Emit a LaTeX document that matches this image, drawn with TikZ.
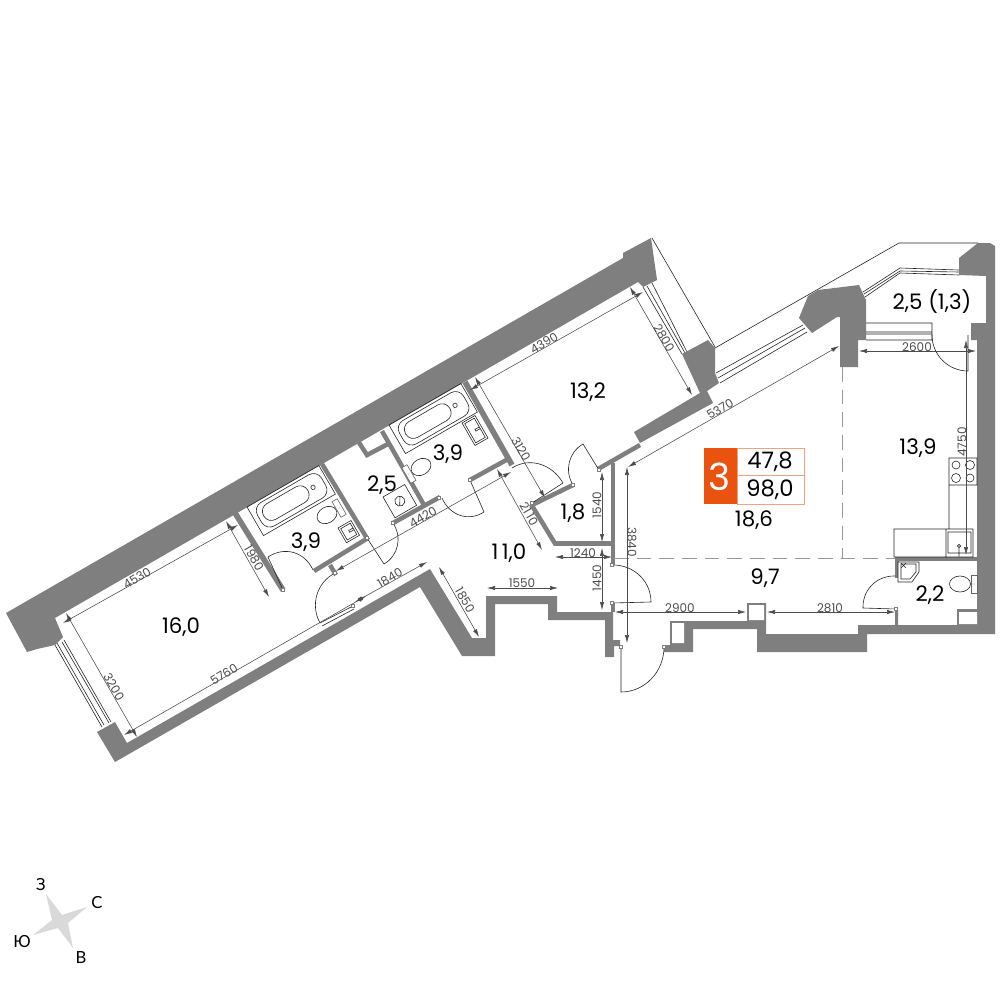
\documentclass[tikz,border=0pt]{standalone}
\usepackage{fontspec}
\setmainfont{Poppins}
\newfontfamily\compassfont{Lato}
\usetikzlibrary{calc,arrows.meta}
\definecolor{wallgray}{HTML}{7F7F7F}
\definecolor{badgeorange}{HTML}{E9520F}
\definecolor{framepeach}{HTML}{F5A27A}
\tikzset{
wall/.style={fill=wallgray,draw=none},
thinwall/.style={draw=wallgray,line width=3.4pt,line join=miter},
fixture/.style={draw=black!85,line width=.45pt},
zone/.style={draw=black!40,line width=.6pt,dash pattern=on 11pt off 6pt},
dimline/.style={draw=black!70,line width=.42pt,{Latex[length=6pt,width=3.2pt]}-{Latex[length=6pt,width=3.2pt]}},
dimtext/.style={text=black!70,font=\fontsize{9}{10}\selectfont,inner sep=0pt},
roomtext/.style={text=black,font=\fontsize{16}{18}\selectfont,inner sep=0pt},
totaltext/.style={text=black,font=\fontsize{17}{19}\selectfont,inner sep=0pt},
compasstext/.style={font=\compassfont\fontsize{12.5}{14}\selectfont,inner sep=0pt},
hinge/.style={draw=wallgray,fill=white,line width=.4pt,minimum size=2.4pt,inner sep=0pt},
bath/.pic={
\draw[fixture] (0,0) rectangle (83,33);
\draw[fixture,rounded corners=7pt] (5,3) rectangle (79,30);
\draw[fixture,rounded corners=6.5pt] (10,7) rectangle (61,25);
\draw[fixture] (67,16) circle[radius=2.2];
},
toilet/.pic={
\draw[fixture] (0,0) ellipse[x radius=10.5,y radius=8];
\draw[fixture,fill=white,draw=black!60] (11,-9) rectangle (17,9);
\fill[black!70] (14,0) circle[radius=.5];
},
vanity/.pic={
\draw[fixture] (0,0) rectangle (15,#1);
\draw[fixture] (2,2) rectangle (13,#1-2);
\draw[fixture] (13,#1/2-1) -- (8,#1/2-1) -- (8,#1/2+1) -- (13,#1/2+1);
}
}
\newcommand{\door}[3]{\draw[fixture] (#3) -- (#1) .. controls ($(#1)+0.5523*(#2)-0.5523*(#3)$) and ($(#2)+0.5523*(#1)-0.5523*(#3)$) .. (#2);}

\begin{document}
\begin{tikzpicture}[x=.75pt,y=-.75pt]
\useasboundingbox (0,0) rectangle (1000,1000);

% kitchen and balcony outlines sit under the walls
\draw[fixture]
(652,238) -- (715,347)
(715,348) -- (899,243) -- (978,243)
(716,373) -- (803,325)
(718,378) -- (805,328)
(720,383) -- (807,332)
(863,292) -- (900,268) -- (959,270)
(864,294) -- (900,271) -- (959,272)
(865,297) -- (900,273) -- (959,275)
(866,323) -- (932,323) -- (932,340) -- (866,340)
(866,332) -- (932,332)
(866,334) -- (932,334)
(643,287) -- (682,354)
(647,286) -- (685,353)
(652,283) -- (687,352)
(55,645) -- (102,727)
(57,643) -- (104,725)
(62,642) -- (109,723)
(64,640) -- (111,722)
;

% walls
\draw[wall] (6,613) -- (27,652) -- (37,649) -- (55,645) -- (63,637) -- (55,618) -- (638,282) -- (643,287) -- (657,280) -- (651,238) -- (623,253) -- (623,258) -- cycle;
\draw[wall] (97,732) -- (115,722) -- (127,743) -- (430,569) -- (472,638) -- (486,638) -- (486,596) -- (557,596) -- (557,612) -- (613,612) -- (613,640) -- (620,640) -- (620,646) -- (614,646) -- (614,657) -- (605,657) -- (605,620) -- (548,620) -- (548,604) -- (495,604) -- (495,656) -- (462,656) -- (420,587) -- (115,762) -- cycle;
\draw[wall] (664,645) -- (664,652) -- (693,652) -- (693,629) -- (757,629) -- (757,652) -- (867,652) -- (867,634) -- (995,634) -- (995,246) -- (990,243) -- (978,243) -- (959,258) -- (959,275) -- (986,276) -- (986,323) -- (971,323) -- (971,340) -- (977,340) -- (977,609) -- (957,609) -- (957,625) -- (898,625) -- (898,609) -- (895,609) -- (895,625) -- (858,625) -- (858,634) -- (766,634) -- (766,603) -- (747,603) -- (747,621) -- (670,621) -- (670,645) -- cycle;
\fill[white] (749,605) rectangle (764,620) (672,623) rectangle (684,643) (959,612) rectangle (977,624);
\draw[wall] (859,285) -- (866,300) -- (866,340) -- (858,340) -- (858,367) -- (840,367) -- (840,317) -- (837,317) -- (812,333) -- (799,318) -- (808,296) -- (818,290) -- cycle;
\draw[wall] (682,354) -- (708,340) -- (715,348) -- (715,373) -- (719,383) -- (707,391) -- (713,403) -- (640,443) -- (634,432) -- (700,393) -- cycle;
\draw[wall] (895,557) rectangle (977,561);

\draw[thinwall,line width=4.2pt]
(235,513) -- (283,590)
(465,382) -- (512,465)
;
\draw[thinwall]
(322,464) -- (368,540)
(314,571) -- (368,538)
(330,565) -- (336,575)
(382,431) -- (424,505)
(393,523) -- (440,497)
(470,480) -- (510,458)
(598,469) -- (640,445)
(531,504) -- (555,543.5) -- (613,543.5)
(532,505) -- (573,485)
(358,441) -- (367,455) -- (388,444)
;
\draw[thinwall,line width=3pt]
(613,463) -- (613,565)
(613,603) -- (613,612)
(896.5,557) -- (896.5,578)
;

% zoning
\draw[zone] (842,367) -- (842,558);
\draw[zone] (614,558.5) -- (895,558.5);

% plumbing
\pic[rotate=30] at (247,507) {bath};
\pic[rotate=30] at (389,425) {bath};
\pic[rotate=30] at (327,515) {toilet};
\pic[rotate=210] at (421,467) {toilet};
\pic at (960,584) {toilet};
\pic[rotate=30] at (338,528) {vanity=17};
\pic[rotate=30] at (462,423) {vanity=26};
\begin{scope}[shift={(383,497)},rotate=30]
\draw[fixture] (0,0) rectangle (25,24);
\draw[fixture] (12.5,12) circle[radius=5];
\draw[fixture] (10,16) -- (15,8);
\end{scope}

% kitchen
\draw[fixture]
(894,529) rectangle (946,557)
(946,529) rectangle (973,557)
(948,532) rectangle (971,553)
(949,458) rectangle (977,485)
(949,485) -- (949,529)
(956,465) circle[radius=4]
(970,465) circle[radius=4.5]
(956,478) circle[radius=4.5]
(970,478) circle[radius=4]
(959,546) circle[radius=1.6]
(959,548) -- (959,556)
;
\draw[fixture,fill=white] (898,562) -- (919,562) -- (919,572) -- (912,582) -- (898,582) -- cycle;
\draw[fixture] (901,564) -- (916,564) -- (916,572) -- (910,579) -- (901,579) -- cycle;
\draw[fixture] (901,563) -- (906,568) (906,563) -- (901,568);

% doors
\door{320,623}{335,573}{353,606}
\draw[fixture] (322,626) -- (354,609);
\door{268,557}{313,570}{283,590}
\door{384,564}{393,523}{367,538}
\door{484,512}{442,498}{470,480}
\door{563,483}{512,468}{532,503}
\door{583,444}{573,485}{599,470}
\door{651,602}{612,565}{612,603}
\door{621,692}{664,647}{621,647}
\door{863,608}{895,576}{896,609}
\door{968,371}{932,335}{968,335}
\foreach \hx/\hy [count=\hi] in {353/606,283/590,367/538,393/523,439/498,470/480,532/503,573/485,599/470,612/565,612/603,621/647,664/647,896/609,335/573}
\node[hinge] (hinge\hi) at (\hx,\hy) {};

% dimensions
\draw[dimline] (63,623) -- (238,525);
\draw[dimline] (66,613) -- (137,737);
\draw[dimline] (124,735) -- (366,596);
\draw[dimline] (226,521) -- (269,597);
\draw[dimline] (355,602) -- (427,562);
\draw[dimline] (439,567) -- (479,637);
\draw[dimline] (487,588) -- (558,588);
\draw[dimline] (336,571) -- (511,472);
\draw[dimline] (475,377) -- (545,498);
\draw[dimline] (497,469) -- (542,550);
\draw[dimline] (470,390) -- (643,292);
\draw[dimline] (630,287) -- (692,395);
\draw[dimline] (628,467) -- (839,346);
\draw[dimline] (627,467) -- (627,643);
\draw[dimline] (602,472) -- (602,542);
\draw[dimline] (602,548) -- (602,610);
\draw[dimline] (555,557) -- (612,557);
\draw[dimline] (615,612) -- (746,612);
\draw[dimline] (767,612) -- (895,612);
\draw[dimline] (859,351) -- (976,351);
\draw[dimline] (966,340) -- (966,555);

\node[dimtext,rotate=30] (d4530) at (137,578) {4530};
\node[dimtext,rotate=-60] (d3200) at (114,687) {3200};
\node[dimtext,rotate=30] (d5760) at (224,674) {5760};
\node[dimtext,rotate=-60] (d1980) at (254,558) {1980};
\node[dimtext,rotate=30] (d1840) at (390,578) {1840};
\node[dimtext,rotate=-60] (d1850) at (465,600) {1850};
\node[dimtext] (d1550) at (522,583) {1550};
\node[dimtext,rotate=30] (d4420) at (423,517) {4420};
\node[dimtext,rotate=-60] (d3120) at (521,449) {3120};
\node[dimtext,rotate=-60] (d2110) at (529,514) {21\kern1.6pt10};
\node[dimtext,rotate=30] (d4390) at (544,343) {4390};
\node[dimtext,rotate=-60] (d2800) at (664,338) {2800};
\node[dimtext,rotate=30] (d5370) at (720,409) {5370};
\node[dimtext,rotate=-90] (d3840) at (632,542) {3840};
\node[dimtext,rotate=90] (d1540) at (597,505) {1540};
\node[dimtext,rotate=90] (d1450) at (597,578) {1450};
\node[dimtext] (d1240) at (583,553) {1240};
\node[dimtext] (d2900) at (680,608) {2900};
\node[dimtext] (d2810) at (830,608) {2810};
\node[dimtext] (d2600) at (917,347) {2600};
\node[dimtext,rotate=90] (d4750) at (962,442) {4750};

% rooms
\node[roomtext] (r160) at (181,627) {16,0};
\node[roomtext] (r39a) at (306,542) {3,9};
\node[roomtext] (r25) at (382,485) {2,5};
\node[roomtext] (r39b) at (448,454) {3,9};
\node[roomtext] (r18) at (573,513) {1,8};
\node[roomtext] (r110) at (509,553) {1\kern2.5pt1,0};
\node[roomtext] (r132) at (588,392) {13,2};
\node[roomtext] (r186) at (754,520) {18,6};
\node[roomtext] (r139) at (918,448) {13,9};
\node[roomtext] (r2513) at (932,302) {2,5 (1,3)};
\node[roomtext] (r97) at (765,578) {9,7};
\node[roomtext] (r22) at (930,595) {2,2};

% badge
\draw[framepeach,line width=.6pt] (737,448) rectangle (804,504) (737,475.5) -- (804,475.5);
\fill[badgeorange] (704,448) rectangle (737,504);
\node[text=white,font=\fontsize{28}{30}\selectfont,inner sep=0pt] (rooms) at (719.5,477) {3};
\node[totaltext] (total) at (770,462) {47,8};
\node[totaltext] (whole) at (770,490) {98,0};

% compass
\fill[black!15] (46,894) -- (62,915) -- (87,907) -- (68,923) -- (73,948) -- (58,928) -- (33,935) -- (52,920) -- cycle;
\node[compasstext] (north) at (41,885) {З};
\node[compasstext] (east) at (97,903) {С};
\node[compasstext] (south) at (81,958) {В};
\node[compasstext] (west) at (22,942) {Ю};
\end{tikzpicture}
\end{document}
